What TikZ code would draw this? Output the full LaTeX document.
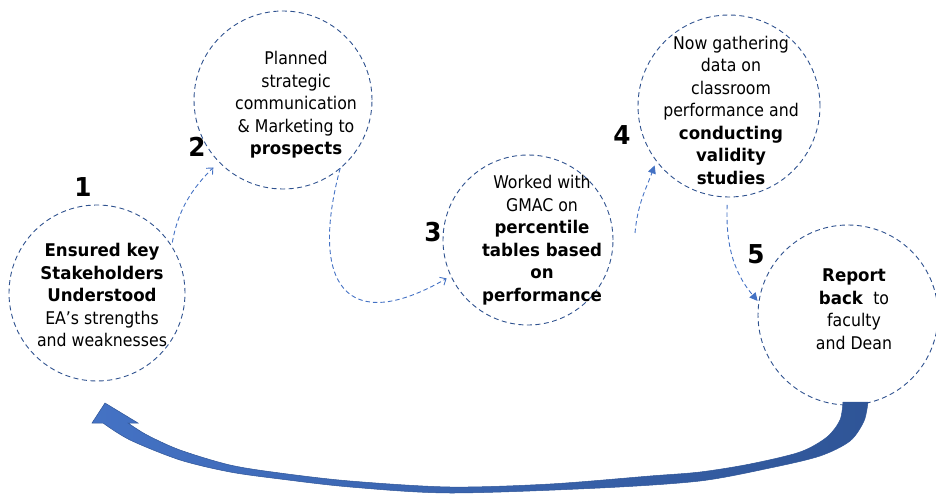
\documentclass[tikz,border=0pt]{standalone}
\usepackage{fontspec}
\setmainfont{DejaVu Sans}[FakeStretch=0.9, BoldFeatures={FakeStretch=0.95}]
\usetikzlibrary{arrows.meta}
\definecolor{ringblue}{HTML}{2F528F}
\definecolor{flowblue}{HTML}{4472C4}
\definecolor{arrowdark}{HTML}{2F5597}
\tikzset{
	stage/.style={circle, draw=ringblue, line width=0.9pt, dash pattern=on 5pt off 3.5pt, minimum size=#1, inner sep=0pt, outer sep=0pt},
	stagetext/.style={align=center, inner sep=0pt, font=\fontsize{17.5}{22.5}\selectfont},
	stagenum/.style={inner sep=0pt, font=\fontsize{26}{26}\selectfont\bfseries},
	flow/.style={draw=flowblue, line width=0.9pt, dash pattern=on 4.5pt off 3pt},
	openhead/.style={flow, -{Straight Barb[length=5pt,width=9pt]}},
	fullhead/.style={flow, -{Triangle[length=8pt,width=8pt]}},
	bigarrow/.style={draw=arrowdark, line width=0.5pt, left color=flowblue, right color=arrowdark}
}

\begin{document}
\begin{tikzpicture}[x=1pt, y=1pt]
		%%%%% START %%%%%
		\useasboundingbox (0, 0) rectangle (936, 493);
		
		\node[stage=176pt] (c1) at (97, 200) {};
		\node[stage=178pt] (c2) at (283, 393) {};
		\node[stage=170pt] (c3) at (528, 253) {};
		\node[stage=182pt] (c4) at (729, 387) {};
		\node[stage=180pt] (c5) at (848, 178) {};
		
		\node[stagetext] (t1) at (102, 198) {\textbf{Ensured key}\\\textbf{Stakeholders}\\\textbf{Understood}\\EA’s strengths\\and weaknesses};
		\node[stagetext] (t2) at (296, 388) {Planned\\strategic\\communication\\\& Marketing to\\\textbf{prospects}};
		\node[stagetext] (t3) at (542, 253) {Worked with\\GMAC on\\\textbf{percentile}\\\textbf{tables based}\\\textbf{on}\\\textbf{performance}};
		\node[stagetext] (t4) at (731, 383) {Now gathering\\data on\\classroom\\performance and\\\textbf{conducting}\\\textbf{validity}\\\textbf{studies}};
		\node[stagetext] (t5) at (854, 184) {\textbf{Report}\\\textbf{back}~ to\\faculty\\and Dean};
		
		\node[stagenum] (n1) at (83, 306) {1};
		\node[stagenum] (n2) at (197, 346) {2};
		\node[stagenum] (n3) at (433, 261) {3};
		\node[stagenum] (n4) at (622, 358) {4};
		\node[stagenum] (n5) at (756, 239) {5};
		
		\coordinate (s34) at (635, 260);
		
		\draw[openhead, shorten <=4pt, shorten >=8pt] (c1.32) to[out=80, in=225] (c2.224);
		\draw[openhead, shorten >=5pt] (c2.-50) to[out=-105, in=210, looseness=2] (c3.205);
		\draw[fullhead, shorten >=5pt] (s34) to[out=85, in=250] (c4.217);
		\draw[fullhead, shorten <=8pt, shorten >=2pt] (c4.-91) to[out=-92, in=130] (c5.172);
		
		% back to the start
		\shadedraw[bigarrow] plot[smooth] coordinates {(868, 91) (864, 72) (850, 52) (820, 37) (770, 25) (700, 12) (600, 5) (450, 0) (350, 6) (280, 14) (230, 21) (180, 33) (130, 53) (103, 70)}
			-- (92, 70) -- (105, 90) -- (138, 70) -- (128, 70)
			-- plot[smooth] coordinates {(128, 70) (147, 58) (180, 43) (230, 28) (280, 20) (350, 12) (450, 6) (550, 9) (650, 17) (700, 21) (750, 29) (800, 41) (827, 56) (840, 73) (843, 91)}
			-- cycle;
		
		%%%%% END %%%%%
	\end{tikzpicture}
\end{document}
